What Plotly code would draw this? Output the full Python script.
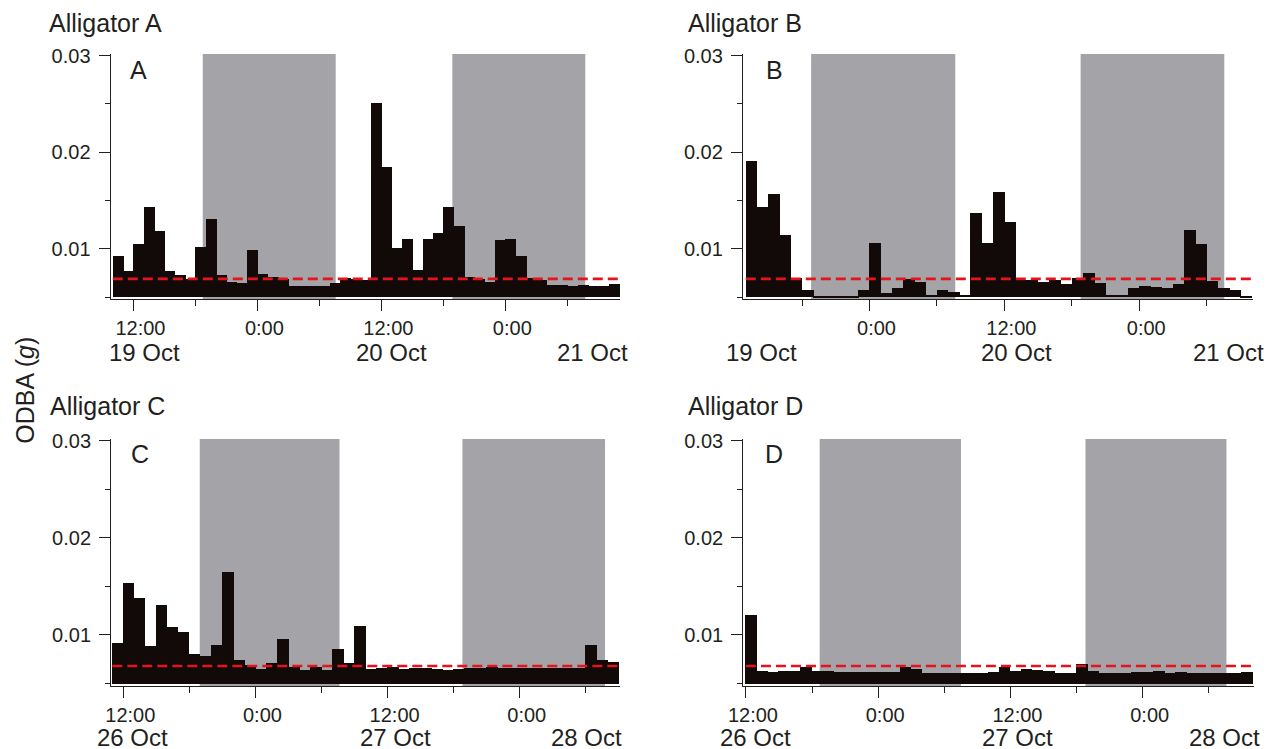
import plotly.graph_objects as go
import numpy as np

W, H = 1277, 749

# ---------------- data (hourly mean ODBA, g) ----------------
# hours are counted from 0:00 of the first date of each panel
a_start = 10
a_vals = [0.00924, 0.00770, 0.01055, 0.01430, 0.01182, 0.00777, 0.00735, 0.00691,
          0.01021, 0.01309, 0.00732, 0.00656, 0.00646, 0.00993, 0.00739, 0.00711,
          0.00691, 0.00622, 0.00615, 0.00615, 0.00615, 0.00649, 0.00704, 0.00691,
          0.00684, 0.02512, 0.01845, 0.01010, 0.01103, 0.00787, 0.01107, 0.01165,
          0.01430, 0.01234, 0.00711, 0.00691, 0.00656, 0.01089, 0.01107, 0.00931,
          0.00698, 0.00677, 0.00625, 0.00625, 0.00622, 0.00625, 0.00615, 0.00615,
          0.00639]
b_start = 13
b_vals = [0.01911, 0.01433, 0.01567, 0.01141, 0.00698, 0.00581, 0.00507, 0.00512,
          0.00507, 0.00507, 0.00581, 0.01062, 0.00546, 0.00595, 0.00691, 0.00663,
          0.00526, 0.00574, 0.00560, 0.00526, 0.01371, 0.01062, 0.01588, 0.01278,
          0.00677, 0.00677, 0.00656, 0.00677, 0.00643, 0.00704, 0.00753, 0.00649,
          0.00526, 0.00526, 0.00601, 0.00615, 0.00608, 0.00601, 0.00636, 0.01196,
          0.01055, 0.00670, 0.00601, 0.00581, 0.00519]
c_start = 11
c_vals = [0.00917, 0.01530, 0.01382, 0.00886, 0.01313, 0.01079, 0.01028, 0.00800,
          0.00780, 0.00893, 0.01647, 0.00742, 0.00687, 0.00649, 0.00714, 0.00959,
          0.00666, 0.00639, 0.00666, 0.00639, 0.00855, 0.00711, 0.01093, 0.00649,
          0.00656, 0.00666, 0.00649, 0.00659, 0.00656, 0.00649, 0.00642, 0.00649,
          0.00659, 0.00659, 0.00666, 0.00659, 0.00659, 0.00659, 0.00659, 0.00659,
          0.00659, 0.00656, 0.00659, 0.00893, 0.00742, 0.00721]
d_start = 12
d_vals = [0.01210, 0.00625, 0.00621, 0.00632, 0.00632, 0.00666, 0.00625, 0.00625,
          0.00621, 0.00621, 0.00618, 0.00614, 0.00614, 0.00614, 0.00673, 0.00645,
          0.00611, 0.00604, 0.00604, 0.00611, 0.00611, 0.00604, 0.00618, 0.00666,
          0.00632, 0.00645, 0.00642, 0.00625, 0.00611, 0.00611, 0.00700, 0.00625,
          0.00608, 0.00608, 0.00611, 0.00614, 0.00618, 0.00625, 0.00608, 0.00614,
          0.00611, 0.00611, 0.00608, 0.00608, 0.00604, 0.00614]

thresholds = [0.0069, 0.0069, 0.0068, 0.0068]

nights_a = [(18.71, 31.58), (42.87, 55.74)]
nights_b = [(18.81, 31.63), (42.78, 55.56)]
nights_c = [(18.94, 31.63), (42.79, 55.74)]
nights_d = [(18.69, 31.51), (42.81, 55.60)]

titles = ["Alligator A", "Alligator B", "Alligator C", "Alligator D"]
letters = ["A", "B", "C", "D"]

time_ticks_full = [12, 24, 36, 48]
time_text_full = ["12:00", "0:00", "12:00", "0:00"]
time_ticks_b = [24, 36, 48]
time_text_b = ["0:00", "12:00", "0:00"]

dates_top = ["19 Oct", "20 Oct", "21 Oct"]
dates_bottom = ["26 Oct", "27 Oct", "28 Oct"]
date_pos_a = [13.1, 36.97, 56.4]
date_pos_b = [14.4, 37.05, 55.9]
date_pos_c = [12.8, 36.7, 54.05]
date_pos_d = [12.9, 36.6, 55.4]

y_ticks = [0.01, 0.02, 0.03]
y_text = ["0.01", "0.02", "0.03"]
y_minor = [0.005, 0.015, 0.025]
BASE = 0.005

# ---------------- layout geometry (pixels) ----------------
panels = [
    dict(vals=a_vals, start=a_start, nights=nights_a, ticks=time_ticks_full, ttext=time_text_full,
         dates=dates_top, dpos=date_pos_a, px=(110.7, 620.0), hr=(9.8, 59.1), row=0),
    dict(vals=b_vals, start=b_start, nights=nights_b, ticks=time_ticks_b, ttext=time_text_b,
         dates=dates_top, dpos=date_pos_b, px=(743.0, 1252.5), hr=(12.75, 58.07), row=0),
    dict(vals=c_vals, start=c_start, nights=nights_c, ticks=time_ticks_full, ttext=time_text_full,
         dates=dates_bottom, dpos=date_pos_c, px=(111.2, 620.0), hr=(10.9, 57.1), row=1),
    dict(vals=d_vals, start=d_start, nights=nights_d, ticks=time_ticks_full, ttext=time_text_full,
         dates=dates_bottom, dpos=date_pos_d, px=(743.3, 1254.0), hr=(11.76, 58.1), row=1),
]
rows = [dict(p03=55.5, p005=297.3, top=53.9, bot=299.3, title_y=22.9, letter_y=69.5, date_y=352.9),
        dict(p03=440.7, p005=683.5, top=439.0, bot=686.0, title_y=406.4, letter_y=454.0, date_y=737.0)]
title_x = [46.5, 685.5, 47.5, 685.5]
letter_x = [127.5, 763.5, 128.5, 762.5]

TXT = "#231f20"
BAR = "#120a08"
GREY = "#a4a3a8"
RED = "#e3141b"
FONT = "Liberation Sans, Arial, Helvetica, sans-serif"

fig = go.Figure()
shapes = []
annotations = []
layout = {}

for i, p in enumerate(panels):
    k = "" if i == 0 else str(i + 1)
    xa, ya = "x" + k, "y" + k
    r = rows[p["row"]]
    ppu = (r["p005"] - r["p03"]) / (0.03 - 0.005)
    yhi = 0.03 + (r["p03"] - r["top"]) / ppu
    ylo = 0.005 - (r["bot"] - r["p005"]) / ppu

    vals = np.array(p["vals"])
    xs = p["start"] + np.arange(len(vals)) + 0.5
    fig.add_trace(go.Bar(x=xs, y=vals - BASE, base=BASE, width=1.05,
                         marker=dict(color=BAR, line=dict(width=0)),
                         xaxis=xa, yaxis=ya, showlegend=False, hoverinfo="skip"))
    x_end = p["start"] + len(vals)
    fig.add_trace(go.Scatter(x=[p["start"], x_end], y=[thresholds[i], thresholds[i]],
                             mode="lines", line=dict(color=RED, width=2.6, dash="10px,5px"),
                             xaxis=xa, yaxis=ya, showlegend=False, hoverinfo="skip"))
    for (n0, n1) in p["nights"]:
        shapes.append(dict(type="rect", xref=xa, yref=ya + " domain", x0=n0, x1=n1, y0=0, y1=1,
                           fillcolor=GREY, line=dict(width=0), layer="below"))

    axis_common = dict(showline=True, linecolor=TXT, linewidth=1.3, ticks="outside",
                       tickcolor=TXT, tickwidth=1.3, showgrid=False, zeroline=False,
                       automargin=False, tickfont=dict(family=FONT, size=20, color=TXT))
    layout["xaxis" + k] = dict(
        domain=[p["px"][0] / W, p["px"][1] / W], range=list(p["hr"]), anchor=ya,
        tickmode="array", tickvals=p["ticks"], ticktext=p["ttext"], ticklen=11,
        ticklabelshift=7, ticklabelstandoff=0,
        minor=dict(tickmode="linear", tick0=0, dtick=6, ticks="outside", ticklen=6,
                   tickwidth=1.3, tickcolor=TXT, showgrid=False),
        **axis_common)
    layout["yaxis" + k] = dict(
        domain=[1 - r["bot"] / H, 1 - r["top"] / H], range=[ylo, yhi], anchor=xa,
        tickmode="array", tickvals=y_ticks, ticktext=y_text, ticklen=11,
        ticklabelstandoff=4,
        minor=dict(tickmode="array", tickvals=y_minor, ticks="outside", ticklen=5,
                   tickwidth=1.3, tickcolor=TXT, showgrid=False),
        **axis_common)

    annotations.append(dict(text=titles[i], xref="paper", yref="paper", x=title_x[i] / W,
                            y=1 - r["title_y"] / H, xanchor="left", yanchor="middle",
                            showarrow=False, font=dict(family=FONT, size=25, color=TXT)))
    annotations.append(dict(text=letters[i], xref="paper", yref="paper", x=letter_x[i] / W,
                            y=1 - r["letter_y"] / H, xanchor="left", yanchor="middle",
                            showarrow=False, font=dict(family=FONT, size=25, color=TXT)))
    for d, pos in zip(p["dates"], p["dpos"]):
        annotations.append(dict(text=d, xref=xa, yref="paper", x=pos, y=1 - r["date_y"] / H,
                                xanchor="center", yanchor="middle", showarrow=False,
                                font=dict(family=FONT, size=24, color=TXT)))

annotations.append(dict(text="ODBA (<i>g</i>)", xref="paper", yref="paper", x=24.7 / W,
                        y=1 - 390 / H, xanchor="center", yanchor="middle", textangle=-90,
                        showarrow=False, font=dict(family=FONT, size=25, color=TXT)))

fig.update_layout(width=W, height=H, margin=dict(l=0, r=0, t=0, b=0),
                  paper_bgcolor="white", plot_bgcolor="rgba(0,0,0,0)",
                  barmode="overlay", bargap=0, shapes=shapes, annotations=annotations,
                  font=dict(family=FONT, color=TXT), **layout)

fig.write_html("out.html", config={"displayModeBar": False},
               post_script="document.body.style.margin='0';document.body.style.overflow='hidden';")
